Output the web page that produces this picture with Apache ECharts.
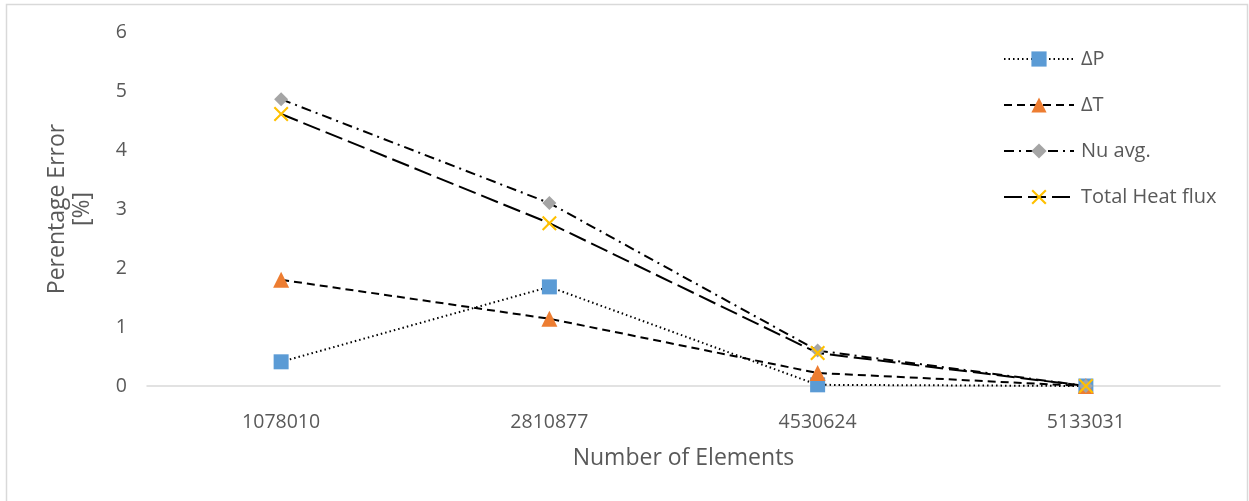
<!DOCTYPE html>
<html>
<head>
<meta charset="utf-8">
<script src="https://cdn.jsdelivr.net/npm/echarts@6/dist/echarts.min.js"></script>
<style>
  html, body { margin: 0; padding: 0; background: #fff; }
  #chart { width: 1249px; height: 501px; }
</style>
</head>
<body>
<div id="chart"></div>
<script>
// Mesh independence study: percentage error vs. number of elements
const categories = ['1078010', '2810877', '4530624', '5133031'];
const deltaP = [0.41, 1.68, 0.02, 0];
const deltaT = [1.80, 1.14, 0.22, 0];
const nuAvg = [4.86, 3.10, 0.60, 0];
const totalHeatFlux = [4.61, 2.76, 0.56, 0];
const yTicks = [0, 1, 2, 3, 4, 5, 6];

const FONT = '"Open Sans", "Noto Sans", sans-serif';
const TEXT = '#595959';
const crossPath = 'path://M0,1 L1,0 L5,4 L9,0 L10,1 L6,5 L10,9 L9,10 L5,6 L1,10 L0,9 L4,5 Z';

const chart = echarts.init(document.getElementById('chart'), null, { renderer: 'canvas' });

function lineSeries(name, data, dash, symbol, size, color) {
  return {
    name: name,
    type: 'line',
    data: data,
    symbol: symbol,
    symbolSize: size,
    showAllSymbol: true,
    itemStyle: { color: color, borderWidth: 0 },
    lineStyle: { color: '#000', width: 2, type: dash },
    emphasis: { disabled: true },
    z: 3
  };
}

chart.setOption({
  animation: false,
  backgroundColor: '#fff',
  graphic: [{
    type: 'rect',
    shape: { x: 6.5, y: 4.5, width: 1241, height: 510 },
    style: { fill: 'none', stroke: '#d9d9d9', lineWidth: 1.5 },
    silent: true,
    z: -1
  }],
  grid: { left: 147, right: 29, top: 32, bottom: 115 },
  legend: {
    orient: 'vertical',
    left: 998,
    top: 44,
    itemWidth: 70,
    itemHeight: 19,
    itemGap: 26,
    textStyle: { fontFamily: FONT, fontSize: 20, color: TEXT, padding: [0, 0, 0, 2] },
    data: ['ΔP', 'ΔT', 'Nu avg.', 'Total Heat flux']
  },
  xAxis: {
    type: 'category',
    data: categories,
    boundaryGap: true,
    name: 'Number of Elements',
    nameLocation: 'middle',
    nameGap: 61,
    nameTextStyle: { fontFamily: FONT, fontSize: 23, color: TEXT },
    axisLine: { lineStyle: { color: '#d9d9d9', width: 1.5 } },
    axisTick: { show: false },
    axisLabel: { fontFamily: FONT, fontSize: 19.5, color: TEXT, margin: 26 },
    splitLine: { show: false }
  },
  yAxis: {
    type: 'value',
    min: yTicks[0],
    max: yTicks[yTicks.length - 1],
    interval: 1,
    name: 'Perentage Error\n[%]',
    nameLocation: 'middle',
    nameGap: 52,
    nameTextStyle: { fontFamily: FONT, fontSize: 23, color: TEXT, lineHeight: 25 },
    axisLine: { show: false },
    axisTick: { show: false },
    axisLabel: { fontFamily: FONT, fontSize: 19.5, color: TEXT, margin: 20 },
    splitLine: { show: false }
  },
  series: [
    lineSeries('ΔP', deltaP, [1.5, 3], 'rect', 15, '#5B9BD5'),
    lineSeries('ΔT', deltaT, [8, 5], 'triangle', 16, '#ED7D31'),
    lineSeries('Nu avg.', nuAvg, [10, 5, 2, 5], 'diamond', 14, '#A5A5A5'),
    lineSeries('Total Heat flux', totalHeatFlux, [18, 6], crossPath, 15, '#FFC000')
  ]
});
</script>
</body>
</html>
